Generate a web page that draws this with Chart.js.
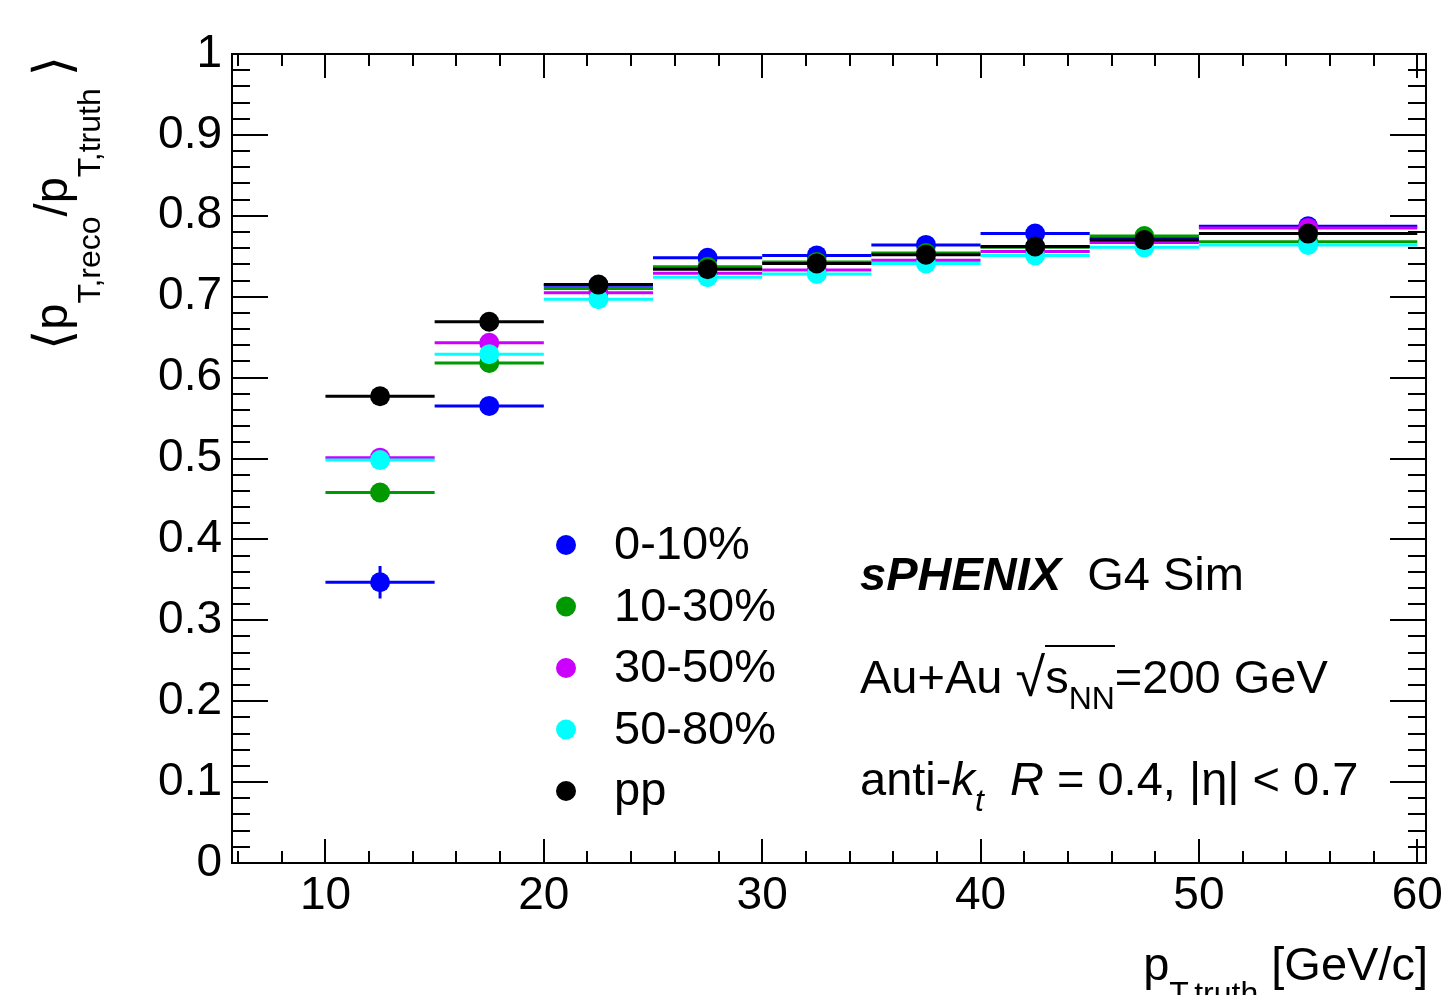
<!DOCTYPE html>
<html>
<head>
<meta charset="utf-8">
<script src="https://cdn.jsdelivr.net/npm/chart.js@4.4.1/dist/chart.umd.min.js"></script>
<style>
  html, body { margin: 0; padding: 0; background: #fff; overflow: hidden; }
  #wrap { position: relative; width: 1451px; height: 995px; overflow: hidden;
          font-family: "Liberation Sans", Arial, sans-serif; color: #000; }
  #chart { position: absolute; left: 0; top: 0; }
  .txt { position: absolute; white-space: nowrap; line-height: 1; }
  #ytitle { left: 26px; top: 350px; font-size: 47px; transform-origin: 0 0; transform: rotate(-90deg); }
  #ytitle .sb { font-size: 32px; vertical-align: -33px; }
  #ytitle .br { font-family: "DejaVu Sans"; font-size: 52px; vertical-align: -3px; }
  #ytitle .br2 { margin-left: 12px; }
  #xtitle { right: 23px; top: 940px; font-size: 47px; }
  #xtitle .sb { font-size: 32px; vertical-align: -24px; }
  .note { left: 860px; font-size: 47px; }
  .note .sb { font-size: 32px; vertical-align: -16px; }
  .note .rad { font-size: 54px; line-height: 0; vertical-align: -3px; }
  .root { border-top: 2px solid #000; padding-top: 3px; }
</style>
</head>
<body>
<div id="wrap">
  <canvas id="chart" width="1451" height="995"></canvas>
  <div id="ytitle" class="txt"><span class="br">⟨</span>p<span class="sb">T,reco</span>/p<span class="sb">T,truth</span><span class="br br2">⟩</span></div>
  <div id="xtitle" class="txt">p<span class="sb">T,truth</span> [GeV/c]</div>
  <div class="txt note" style="top:550px"><b><i>sPHENIX</i></b>&nbsp; G4 Sim</div>
  <div class="txt note" style="top:653px">Au+Au <span class="rad">√</span><span class="root">s<span class="sb">NN</span></span>=200 GeV</div>
  <div class="txt note" style="top:755px">anti-<i>k<span class="sb">t</span></i>&nbsp; <i>R</i> = 0.4, |η| &lt; 0.7</div>
</div>
<script>
// jet pT bins
const binCenters    = [12.5, 17.5, 22.5, 27.5, 32.5, 37.5, 42.5, 47.5, 55];
const binHalfWidths = [2.5, 2.5, 2.5, 2.5, 2.5, 2.5, 2.5, 2.5, 5];

// <pT,reco/pT,truth> per centrality class
const cent0_10  = [0.347, 0.565, 0.714, 0.748, 0.751, 0.764, 0.778, 0.772, 0.787];
const cent10_30 = [0.458, 0.618, 0.710, 0.737, 0.743, 0.754, 0.761, 0.775, 0.768];
const cent30_50 = [0.501, 0.643, 0.705, 0.729, 0.733, 0.745, 0.756, 0.767, 0.785];
const cent50_80 = [0.498, 0.629, 0.697, 0.724, 0.728, 0.741, 0.751, 0.761, 0.764];
const ppValues  = [0.577, 0.669, 0.715, 0.734, 0.741, 0.752, 0.762, 0.770, 0.778];

// statistical errors (only the lowest 0-10% bin is visible)
const err0_10  = [0.020, 0.004, 0.003, 0.003, 0.003, 0.003, 0.003, 0.003, 0.003];
const err10_30 = [0.004, 0.003, 0.002, 0.002, 0.002, 0.002, 0.002, 0.002, 0.002];
const err30_50 = [0.003, 0.002, 0.002, 0.002, 0.002, 0.002, 0.002, 0.002, 0.002];
const err50_80 = [0.003, 0.002, 0.002, 0.002, 0.002, 0.002, 0.002, 0.002, 0.002];
const errPP    = [0.002, 0.002, 0.001, 0.001, 0.001, 0.001, 0.001, 0.001, 0.001];

const seriesLabels = ['0-10%', '10-30%', '30-50%', '50-80%', 'pp'];
const seriesColors = ['#0000ff', '#009900', '#cc00ff', '#00ffff', '#000000'];

const xTickValues = [10, 20, 30, 40, 50, 60];
const yTickValues = [0, 0.1, 0.2, 0.3, 0.4, 0.5, 0.6, 0.7, 0.8, 0.9, 1];

const FONT = '"Liberation Sans", Arial, sans-serif';

function makePoints(values, errors) {
    return binCenters.map(function (x, i) {
        return { x: x, y: values[i], xw: binHalfWidths[i], ye: errors[i] };
    });
}

const allValues = [cent0_10, cent10_30, cent30_50, cent50_80, ppValues];
const allErrors = [err0_10, err10_30, err30_50, err50_80, errPP];

let datasets = seriesLabels.map(function (label, i) {
    return {
        label: label,
        data: makePoints(allValues[i], allErrors[i]),
        backgroundColor: seriesColors[i],
        borderColor: seriesColors[i],
        pointRadius: 10,
        pointBorderWidth: 0,
        showLine: false,
        order: seriesLabels.length - i // pp drawn last (on top)
    };
});

// ROOT look: error bars, inward ticks on all sides, frame, legend
const rootStyle = {
    id: 'rootStyle',
    beforeDatasetDraw(chart, args) {
        let ds = chart.data.datasets[args.index];
        let xs = chart.scales.x, ys = chart.scales.y;
        let ctx = chart.ctx;
        ctx.save();
        ctx.strokeStyle = ds.borderColor;
        ctx.lineWidth = 3;
        ds.data.forEach(function (p) {
            let py = ys.getPixelForValue(p.y);
            let px = xs.getPixelForValue(p.x);
            ctx.beginPath();
            ctx.moveTo(xs.getPixelForValue(p.x - p.xw), py);
            ctx.lineTo(xs.getPixelForValue(p.x + p.xw), py);
            ctx.moveTo(px, ys.getPixelForValue(p.y - p.ye));
            ctx.lineTo(px, ys.getPixelForValue(p.y + p.ye));
            ctx.stroke();
        });
        ctx.restore();
    },
    afterDraw(chart) {
        let ctx = chart.ctx;
        let a = chart.chartArea;
        let xs = chart.scales.x, ys = chart.scales.y;
        ctx.save();
        ctx.strokeStyle = '#000';
        ctx.lineWidth = 2;
        ctx.beginPath();
        // x ticks every 2, major every 10
        for (let v = 6; v <= 60; v += 2) {
            let px = Math.round(xs.getPixelForValue(v));
            let len = (v % 10 === 0) ? 24 : 12;
            ctx.moveTo(px, a.bottom); ctx.lineTo(px, a.bottom - len);
            ctx.moveTo(px, a.top);    ctx.lineTo(px, a.top + len);
        }
        // y ticks every 0.02, major every 0.1
        for (let k = 0; k <= 50; k++) {
            let py = Math.round(ys.getPixelForValue(k * 0.02));
            let len = (k % 5 === 0) ? 36 : 18;
            ctx.moveTo(a.left, py);  ctx.lineTo(a.left + len, py);
            ctx.moveTo(a.right, py); ctx.lineTo(a.right - len, py);
        }
        ctx.stroke();
        ctx.strokeRect(a.left, a.top, a.right - a.left, a.bottom - a.top);

        // legend
        ctx.font = '47px ' + FONT;
        ctx.textBaseline = 'alphabetic';
        chart.data.datasets.forEach(function (ds, i) {
            let cy = 545 + i * 61.5;
            ctx.fillStyle = ds.backgroundColor;
            ctx.beginPath();
            ctx.arc(566, cy, 10, 0, Math.PI * 2);
            ctx.fill();
            ctx.fillStyle = '#000';
            ctx.fillText(ds.label, 614, cy + 14);
        });
        ctx.restore();
    }
};

let ctx = document.getElementById('chart').getContext('2d');
let myChart = new Chart(ctx, {
    type: 'scatter',
    data: { datasets: datasets },
    options: {
        responsive: false,
        animation: false,
        events: [],
        layout: { padding: { left: 0, right: 25, top: 54, bottom: 0 } },
        plugins: { legend: { display: false }, tooltip: { enabled: false } },
        scales: {
            x: {
                type: 'linear',
                min: 5.72,
                max: 60.4,
                grid: { display: false, drawTicks: false },
                border: { display: false },
                afterBuildTicks: function (s) { s.ticks = xTickValues.map(function (v) { return { value: v }; }); },
                afterFit: function (s) { s.height = 132; s.paddingLeft = 0; s.paddingRight = 0; },
                ticks: {
                    autoSkip: false, maxRotation: 0, padding: 6, color: '#000',
                    font: { family: FONT, size: 46 },
                    callback: function (v) { return String(v); }
                }
            },
            y: {
                type: 'linear',
                min: 0,
                max: 1,
                grid: { display: false, drawTicks: false },
                border: { display: false },
                afterBuildTicks: function (s) { s.ticks = yTickValues.map(function (v) { return { value: v }; }); },
                afterFit: function (s) { s.width = 232; s.paddingTop = 0; s.paddingBottom = 0; },
                ticks: {
                    autoSkip: false, padding: 10, color: '#000',
                    font: { family: FONT, size: 46 },
                    callback: function (v) { return String(Math.round(v * 10) / 10); }
                }
            }
        }
    },
    plugins: [rootStyle]
});
</script>
</body>
</html>
